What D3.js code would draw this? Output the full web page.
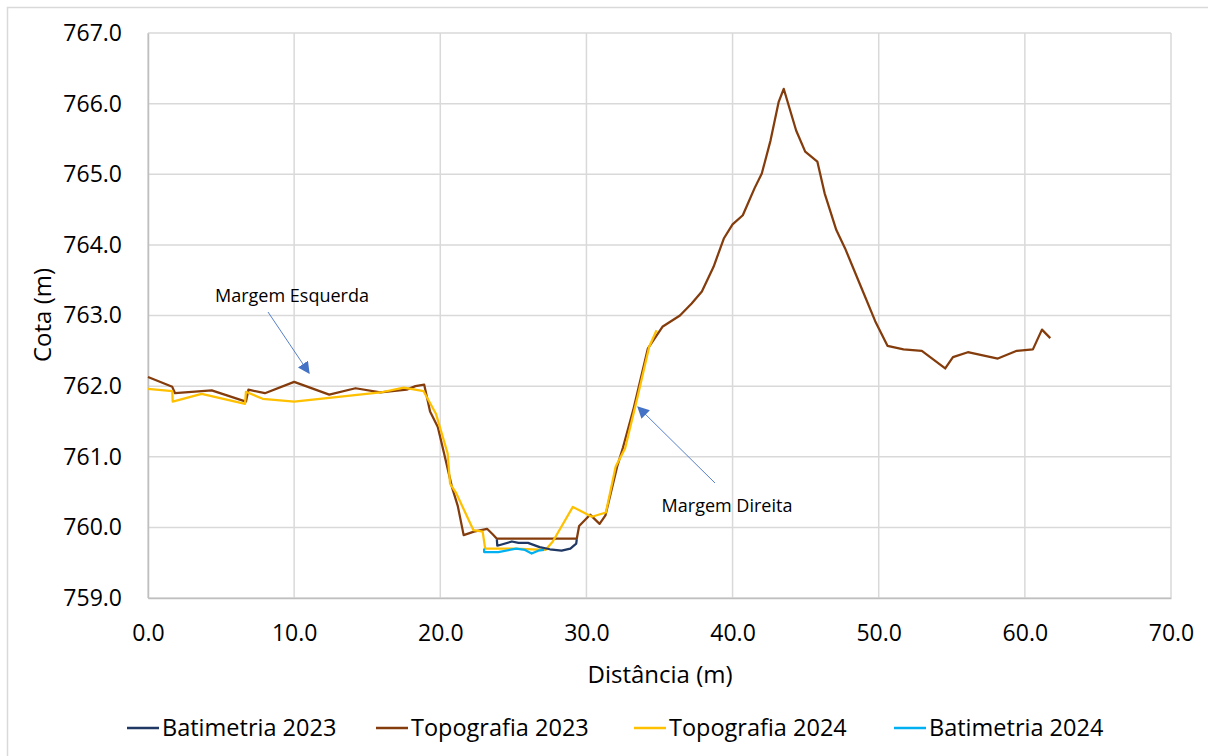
<!DOCTYPE html>
<html>
<head>
<meta charset="utf-8">
<script src="https://cdn.jsdelivr.net/npm/d3@7"></script>
<style>
  body { margin: 0; background: #fff; }
  svg text { font-family: "Open Sans", "Noto Sans", sans-serif; fill: #000; }
</style>
</head>
<body>
<div id="chart"></div>
<script>
// Series data: [distance (m), elevation (m)]
const topo2023 = [
  [0, 762.13], [1.66, 761.99], [1.85, 761.9], [4.36, 761.94], [6.7, 761.78], [6.87, 761.95],
  [8.0, 761.9], [10.0, 762.06], [12.4, 761.88], [14.2, 761.97], [15.9, 761.91], [17.7, 761.95],
  [18.3, 762.0], [18.9, 762.02], [19.3, 761.64], [19.83, 761.42], [20.2, 761.1], [20.8, 760.57],
  [21.2, 760.3], [21.6, 759.89], [22.3, 759.94], [23.2, 759.98], [23.6, 759.9], [23.87, 759.84],
  [29.34, 759.84], [29.5, 760.02], [30.25, 760.18], [30.9, 760.05], [31.3, 760.17], [32.1, 760.86],
  [32.5, 761.13], [33.2, 761.66], [34.2, 762.53], [35.2, 762.84], [36.4, 763.0], [37.2, 763.17],
  [37.9, 763.34], [38.7, 763.69], [39.4, 764.09], [40.0, 764.29], [40.7, 764.42], [41.5, 764.8],
  [42.0, 765.01], [42.6, 765.48], [43.15, 766.02], [43.5, 766.21], [44.35, 765.62], [44.97, 765.32],
  [45.8, 765.18], [46.3, 764.73], [47.1, 764.21], [47.7, 763.95], [48.7, 763.45], [49.76, 762.92],
  [50.6, 762.57], [51.7, 762.52], [52.95, 762.5], [54.55, 762.25], [55.08, 762.41], [56.1, 762.48],
  [58.15, 762.39], [59.45, 762.5], [60.55, 762.52], [61.17, 762.8], [61.74, 762.68]
];
const topo2024 = [
  [0, 761.96], [1.66, 761.93], [1.69, 761.78], [3.67, 761.89], [6.64, 761.75], [6.7, 761.92],
  [7.85, 761.82], [10.0, 761.78], [15.9, 761.91], [17.5, 761.98], [18.85, 761.93], [19.7, 761.61],
  [20.5, 761.05], [20.67, 760.62], [21.1, 760.48], [22.27, 759.96], [22.9, 759.94], [23.07, 759.7],
  [25.0, 759.7], [27.2, 759.68], [27.7, 759.8], [29.07, 760.29], [30.37, 760.15], [31.33, 760.21],
  [32.0, 760.86], [32.65, 761.12], [33.5, 761.85], [34.3, 762.56], [34.8, 762.79]
];
const bati2023 = [
  [23.87, 759.83], [23.9, 759.74], [24.9, 759.8], [25.35, 759.78], [26.0, 759.78], [26.8, 759.72],
  [27.5, 759.69], [28.3, 759.67], [28.9, 759.7], [29.3, 759.77], [29.34, 759.83]
];
const bati2024 = [
  [23.0, 759.7], [23.0, 759.65], [23.97, 759.65], [25.2, 759.7], [25.8, 759.68], [26.25, 759.63],
  [26.7, 759.67], [27.1, 759.68]
];

const seriesNames = ["Batimetria 2023", "Topografia 2023", "Topografia 2024", "Batimetria 2024"];
const seriesData = [bati2023, topo2023, topo2024, bati2024];
const seriesColors = ["#1F3864", "#843C0C", "#FFC000", "#00B0F0"];
// draw order: topography first, bathymetry on top
const drawOrder = [1, 2, 0, 3];

const xTicks = [0, 10, 20, 30, 40, 50, 60, 70];
const yTicks = [759, 760, 761, 762, 763, 764, 765, 766, 767];

const annotations = [
  { text: "Margem Esquerda", tx: 292, ty: 302, from: [268, 312], to: [309, 373] },
  { text: "Margem Direita", tx: 727, ty: 512, from: [715, 483], to: [638, 407] }
];

const width = 1208;
const height = 756;
const margin = { top: 33, right: 37, bottom: 158, left: 148 };

const svg = d3.select("#chart")
  .append("svg")
  .attr("width", width)
  .attr("height", height);

// outer chart border (runs off the right and bottom edges)
svg.append("rect")
  .attr("x", 7.5).attr("y", 7.5)
  .attr("width", width + 10).attr("height", height + 10)
  .attr("fill", "#fff")
  .attr("stroke", "#d9d9d9")
  .attr("stroke-width", 1.5);

const xScale = d3.scaleLinear()
  .domain([0, 70])
  .range([margin.left, width - margin.right]);

const yScale = d3.scaleLinear()
  .domain([759, 767])
  .range([height - margin.bottom, margin.top]);

// gridlines
svg.append("g")
  .selectAll("line.h")
  .data(yTicks)
  .enter().append("line")
  .attr("x1", margin.left).attr("x2", width - margin.right)
  .attr("y1", d => yScale(d)).attr("y2", d => yScale(d))
  .attr("stroke", "#d9d9d9").attr("stroke-width", 1.5);

svg.append("g")
  .selectAll("line.v")
  .data(xTicks)
  .enter().append("line")
  .attr("x1", d => xScale(d)).attr("x2", d => xScale(d))
  .attr("y1", margin.top).attr("y2", height - margin.bottom)
  .attr("stroke", "#d9d9d9").attr("stroke-width", 1.5);

// axes
const xAxis = d3.axisBottom(xScale).tickValues(xTicks).tickFormat(d3.format(".1f")).tickSize(0).tickPadding(27);
const gx = svg.append("g")
  .attr("transform", `translate(0,${height - margin.bottom})`)
  .call(xAxis);
gx.select(".domain").attr("stroke", "#bfbfbf").attr("stroke-width", 1.5);
gx.selectAll("text").style("font-size", "23px").attr("fill", "#000");

const yAxis = d3.axisLeft(yScale).tickValues(yTicks).tickFormat(d3.format(".1f")).tickSize(0).tickPadding(26);
const gy = svg.append("g")
  .attr("transform", `translate(${margin.left},0)`)
  .call(yAxis);
gy.select(".domain").attr("stroke", "#bfbfbf").attr("stroke-width", 1.5);
gy.selectAll("text").style("font-size", "23px").attr("fill", "#000");

// axis titles
svg.append("text")
  .attr("x", 660)
  .attr("y", 683)
  .style("text-anchor", "middle")
  .style("font-size", "24px")
  .text("Distância (m)");

svg.append("text")
  .attr("transform", `translate(51,315) rotate(-90)`)
  .style("text-anchor", "middle")
  .style("font-size", "24px")
  .text("Cota (m)");

// lines
const line = d3.line()
  .x(d => xScale(d[0]))
  .y(d => yScale(d[1]));

drawOrder.forEach(i => {
  svg.append("path")
    .datum(seriesData[i])
    .attr("d", line)
    .attr("fill", "none")
    .attr("stroke", seriesColors[i])
    .attr("stroke-width", 2.25)
    .attr("stroke-linejoin", "round");
});

// annotation arrows
const defs = svg.append("defs");
defs.append("marker")
  .attr("id", "arrow")
  .attr("viewBox", "0 0 10 10")
  .attr("refX", 9).attr("refY", 5)
  .attr("markerWidth", 12).attr("markerHeight", 12)
  .attr("markerUnits", "userSpaceOnUse")
  .attr("orient", "auto")
  .append("path")
  .attr("d", "M0,0 L10,5 L0,10 z")
  .attr("fill", "#4472C4");

annotations.forEach(a => {
  svg.append("line")
    .attr("x1", a.from[0]).attr("y1", a.from[1])
    .attr("x2", a.to[0]).attr("y2", a.to[1])
    .attr("stroke", "#4472C4")
    .attr("stroke-width", 0.9)
    .attr("marker-end", "url(#arrow)");
  svg.append("text")
    .attr("x", a.tx).attr("y", a.ty)
    .style("text-anchor", "middle")
    .style("font-size", "18px")
    .attr("fill", "#262626")
    .text(a.text);
});

// legend
const legendX = [127, 376, 634, 894];
const legend = svg.append("g");
seriesNames.forEach((name, i) => {
  const g = legend.append("g").attr("transform", `translate(${legendX[i]},728)`);
  g.append("line")
    .attr("x1", 0).attr("x2", 32)
    .attr("y1", 0).attr("y2", 0)
    .attr("stroke", seriesColors[i])
    .attr("stroke-width", 2.5);
  g.append("text")
    .attr("x", 35).attr("y", 8)
    .style("font-size", "23.5px")
    .text(name);
});
</script>
</body>
</html>
